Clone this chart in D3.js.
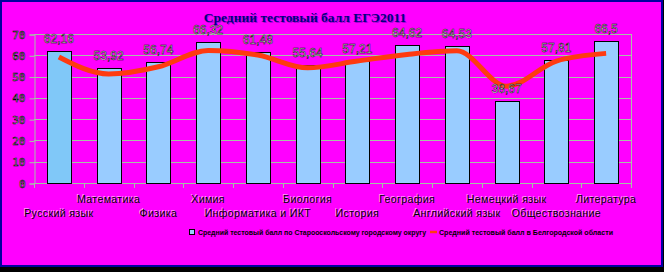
<!DOCTYPE html>
<html>
<head>
<meta charset="utf-8">
<script src="https://cdnjs.cloudflare.com/ajax/libs/d3/7.8.5/d3.min.js"></script>
<style>
  body { margin: 0; background: #000; }
  svg { display: block; }
  text { font-family: "Liberation Sans", Arial, sans-serif; }
</style>
</head>
<body>
<svg width="664" height="272"></svg>
<script>
// subjects, in chart order
var subjects = ["Русский язык", "Математика", "Физика", "Химия", "Информатика и ИКТ",
  "Биология", "История", "География", "Английский язык", "Немецкий язык",
  "Обществознание", "Литература"];
// district averages (bars)
var districtScores = [62.16, 53.92, 56.74, 66.32, 61.48, 55.64, 57.21, 64.62, 64.53, 38.67, 57.81, 66.5];
// region averages (line)
var regionScores = [59.2, 51.2, 54.6, 62.3, 60.1, 54.1, 57.3, 60.4, 62.1, 45.5, 57.3, 60.9];
var yTicks = [0, 10, 20, 30, 40, 50, 60, 70];
var titleText = "Средний тестовый балл ЕГЭ2011";
var legendBar = "Средний тестовый балл по Старооскольскому городскому округу";
var legendLine = "Средний тестовый балл в Белгородской области";

var svg = d3.select("svg");

// frame
svg.append("rect").attr("x", 0).attr("y", 0).attr("width", 664).attr("height", 272).style("fill", "#000");
svg.append("rect")
  .attr("x", 1).attr("y", 1).attr("width", 661).attr("height", 265)
  .style("fill", "#ff00ff").style("stroke", "#0000a0").style("stroke-width", 2);

var pL = 34, pR = 631, pT = 34, pB = 183;

var x = d3.scaleBand().domain(subjects).range([pL, pR]).paddingInner(0).paddingOuter(0);
var y = d3.scaleLinear().domain([0, 70]).range([pB, pT]);

var gridColor = "#a6c2a6";

// gridlines
svg.append("g").selectAll("line").data(yTicks).enter().append("line")
  .attr("x1", pL).attr("x2", pR)
  .attr("y1", function(d){ return Math.round(y(d)) + 0.5; })
  .attr("y2", function(d){ return Math.round(y(d)) + 0.5; })
  .style("stroke", gridColor).style("stroke-width", 1);

// right border of plot
svg.append("line")
  .attr("x1", pR + 0.5).attr("x2", pR + 0.5).attr("y1", pT).attr("y2", pB + 5)
  .style("stroke", gridColor);

// y axis
var yAxis = svg.append("g")
  .attr("transform", "translate(" + (pL + 0.5) + ",0.5)")
  .call(d3.axisLeft(y).tickValues(yTicks).tickSize(5).tickPadding(4));
yAxis.select(".domain").style("stroke", gridColor);
yAxis.selectAll(".tick line").style("stroke", gridColor);
yAxis.selectAll("text")
  .style("font-size", "11px")
  .style("fill", "#fff")
  .style("stroke", "#000").style("stroke-width", "0.6px")
  .style("font-family", "'DejaVu Sans Mono', monospace");

// x axis line and ticks at band edges
svg.append("line")
  .attr("x1", pL).attr("x2", pR).attr("y1", pB + 0.5).attr("y2", pB + 0.5)
  .style("stroke", gridColor);
var edges = subjects.map(function(d){ return x(d); }).concat([pR]);
svg.append("g").selectAll("line").data(edges).enter().append("line")
  .attr("x1", function(d){ return Math.round(d) + 0.5; })
  .attr("x2", function(d){ return Math.round(d) + 0.5; })
  .attr("y1", pB).attr("y2", pB + 5)
  .style("stroke", gridColor);

// bars
var barW = x.bandwidth() * 0.48;
svg.append("g").selectAll("rect").data(districtScores).enter().append("rect")
  .attr("x", function(d, i){ return Math.round(x(subjects[i]) + (x.bandwidth() - barW) / 2) + 0.5; })
  .attr("y", function(d){ return Math.round(y(d)) + 0.5; })
  .attr("width", Math.round(barW))
  .attr("height", function(d){ return Math.round(y(0)) - Math.round(y(d)); })
  .style("fill", function(d, i){ return i == 0 ? "#80c8f8" : "#99ccff"; })
  .style("stroke", "#000").style("stroke-width", 1);

// region line
var line = d3.line()
  .x(function(d, i){ return x(subjects[i]) + x.bandwidth() / 2; })
  .y(function(d){ return y(d); })
  .curve(d3.curveMonotoneX);
svg.append("path").datum(regionScores)
  .attr("d", line)
  .style("fill", "none").style("stroke", "#ff3a10").style("stroke-width", 5)
  .style("stroke-linejoin", "round");

// data labels
svg.append("g").selectAll("text").data(districtScores).enter().append("text")
  .attr("x", function(d, i){ return x(subjects[i]) + x.bandwidth() / 2; })
  .attr("y", function(d){ return y(d) - 8; })
  .attr("text-anchor", "middle")
  .style("font-size", "12px")
  .style("fill", "#fff")
  .style("stroke", "#000").style("stroke-width", "0.5px")
  .text(function(d){ return String(d).replace(".", ","); });

// category labels, two staggered rows
svg.append("g").selectAll("text").data(subjects).enter().append("text")
  .attr("x", function(d){ return x(d) + x.bandwidth() / 2; })
  .attr("y", function(d, i){ return i % 2 == 1 ? 203 : 217; })
  .attr("text-anchor", "middle")
  .style("font-size", "10.5px")
  .style("letter-spacing", "0.4px")
  .style("fill", "#000")
  .style("text-shadow", "-1px -1px 0 rgba(255,255,255,0.6)")
  .text(function(d){ return d; });

// title
svg.append("text")
  .attr("x", 305).attr("y", 22)
  .attr("text-anchor", "middle")
  .style("font-family", "'Liberation Serif', 'Times New Roman', serif")
  .style("font-weight", "bold")
  .style("font-size", "13.5px")
  .style("fill", "#000080")
  .style("text-shadow", "1px 1px 0 rgba(0,0,128,0.35)")
  .text(titleText);

// legend
var lg = svg.append("g");
lg.append("rect").attr("x", 189.5).attr("y", 229.5).attr("width", 5).attr("height", 5)
  .style("fill", "#99ccff").style("stroke", "#000");
lg.append("text").attr("x", 198).attr("y", 235)
  .attr("textLength", 228).attr("lengthAdjust", "spacingAndGlyphs")
  .style("font-size", "8px").style("font-weight", "bold").style("fill", "#000")
  .text(legendBar);
lg.append("line").attr("x1", 430).attr("x2", 437).attr("y1", 232).attr("y2", 232)
  .style("stroke", "#ff3a10").style("stroke-width", 2.5);
lg.append("text").attr("x", 439).attr("y", 235)
  .attr("textLength", 174).attr("lengthAdjust", "spacingAndGlyphs")
  .style("font-size", "8px").style("font-weight", "bold").style("fill", "#000")
  .text(legendLine);
</script>
</body>
</html>
